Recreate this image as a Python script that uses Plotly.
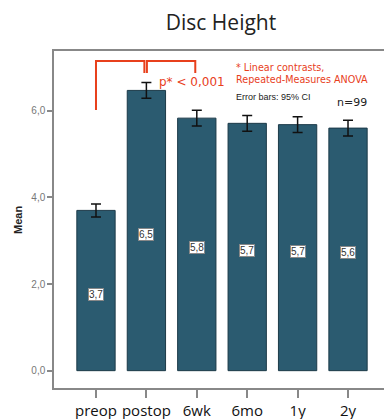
import plotly.graph_objects as go

categories = ["preop", "postop", "6wk", "6mo", "1y", "2y"]
means = [3.70, 6.47, 5.83, 5.71, 5.68, 5.60]
ci_half = [0.15, 0.18, 0.18, 0.18, 0.18, 0.18]
y_ticks = [0, 2, 4, 6]
bar_labels = ["3,7", "6,5", "5,8", "5,7", "5,7", "5,6"]

RED = "#E8401C"
BAR = "#2B5B70"

x_idx = list(range(len(categories)))

fig = go.Figure()
fig.add_trace(go.Bar(
    x=x_idx, y=means, width=0.76,
    marker=dict(color=BAR, line=dict(color="#1C3A48", width=1)),
    error_y=dict(type="data", array=ci_half, color="#111", thickness=1.5, width=5),
    hoverinfo="skip",
))

annotations = []
for i, (v, lab) in enumerate(zip(means, bar_labels)):
    annotations.append(dict(
        x=i, y=v / 2 - 0.08, xref="x", yref="y", text=lab, showarrow=False,
        font=dict(family="Liberation Sans", size=10, color="#333"),
        bgcolor="white", bordercolor="#888", borderwidth=1, borderpad=0,
    ))

# brackets
shapes = []
top_y = 7.15
low_y = 6.87
shapes.append(dict(type="path", xref="x", yref="y",
                   path=f"M 0,6.02 L 0,{top_y} L 0.96,{top_y} L 0.96,{low_y}",
                   line=dict(color=RED, width=2)))
shapes.append(dict(type="path", xref="x", yref="y",
                   path=f"M 1.01,{low_y} L 1.01,{top_y} L 1.97,{top_y} L 1.97,{low_y}",
                   line=dict(color=RED, width=2)))

annotations.append(
    dict(x=1.22, y=6.67, xref="x", yref="y", xanchor="left", yanchor="middle",
         text="p* &lt; 0,001", showarrow=False,
         font=dict(family="DejaVu Sans", size=12, color=RED)))

def px_x(px):
    return (px - 54) / 330

def px_y(py):
    return 1 - (py - 51) / 337

annotations += [
    dict(x=px_x(234), y=px_y(60), xref="paper", yref="paper", xanchor="left", yanchor="top",
         align="left", text="* Linear contrasts,<br>Repeated-Measures ANOVA", showarrow=False,
         font=dict(family="DejaVu Sans", size=9.6, color=RED)),
    dict(x=px_x(234), y=px_y(97), xref="paper", yref="paper", xanchor="left", yanchor="middle",
         text="Error bars: 95% CI", showarrow=False,
         font=dict(family="Liberation Sans", size=9, color="#222")),
    dict(x=px_x(352), y=px_y(102), xref="paper", yref="paper", xanchor="center", yanchor="middle",
         text="n=99", showarrow=False,
         font=dict(family="DejaVu Sans", size=11, color="#222")),
    dict(x=px_x(18), y=px_y(220), xref="paper", yref="paper", xanchor="center", yanchor="middle",
         text="<b>Mean</b>", textangle=-90, showarrow=False,
         font=dict(family="Liberation Sans", size=11, color="#222")),
]

fig.update_layout(
    width=384, height=419,
    margin=dict(l=54, r=0, t=51, b=31, autoexpand=False),
    paper_bgcolor="white", plot_bgcolor="white",
    separators=",.",
    showlegend=False,
    title=dict(text="Disc Height", x=221 / 384, xanchor="center", y=1 - 23 / 419, yanchor="middle",
               font=dict(family="Open Sans", size=21, color="#222")),
    xaxis=dict(
        range=[-0.833, 5.714], tickmode="array", tickvals=x_idx, ticktext=categories,
        tickangle=0, automargin=False,
        showline=True, linecolor="#888", linewidth=1.5, mirror=True,
        ticks="outside", ticklen=8, tickcolor="#888", tickwidth=1.5,
        showgrid=False, zeroline=False,
        tickfont=dict(family="Open Sans", size=15, color="#111"),
    ),
    yaxis=dict(
        range=[-0.4, 7.38], tickmode="array", tickvals=y_ticks, tickformat=".1f",
        automargin=False,
        showline=True, linecolor="#888", linewidth=1.5,
        ticks="outside", ticklen=5, tickcolor="#888", tickwidth=1.5,
        showgrid=False, zeroline=False,
        tickfont=dict(family="Liberation Sans", size=10, color="#777"),
    ),
    shapes=shapes,
    annotations=annotations,
)

fig.write_html("out.html", config={"displayModeBar": False},
               post_script="document.body.style.margin='0';document.body.style.overflow='hidden';")
